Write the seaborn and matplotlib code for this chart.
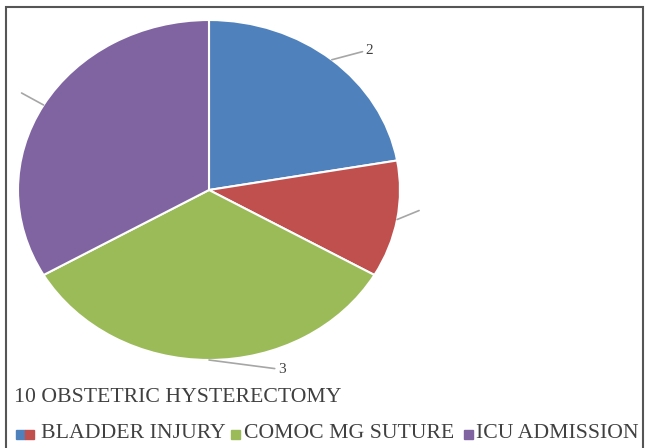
import numpy as np
import matplotlib
matplotlib.use("Agg")
import matplotlib.pyplot as plt
from matplotlib.patches import Rectangle
import seaborn as sns

# data
categories = ["OBSTETRIC HYSTERECTOMY", "BLADDER INJURY", "COMOC MG SUTURE", "ICU ADMISSION"]
counts = [2, 1, 3, 3]
shown_labels = ["2", "", "3", ""]
title_text = "10 OBSTETRIC HYSTERECTOMY"

colors = ["#4F81BD", "#C0504D", "#9BBB59", "#8064A2"]
label_offsets = [(34, 9), (22, 9), (69, -9), (-22, 12)]  # pixels, leader end

sns.set_theme(style="white")
plt.rcParams['font.family'] = ['Liberation Serif', 'DejaVu Serif']

W, H = 646, 448
fig = plt.figure(figsize=(W / 100, H / 100), dpi=100)

# pie centre (209,190) px, radii 191 x 170 px (slightly squashed like the original)
cx, cy, rx, ry = 209, 190, 191, 170
ax = fig.add_axes([(cx - rx) / W, 1 - (cy + ry) / H, 2 * rx / W, 2 * ry / H])
wedges, _ = ax.pie(counts, colors=colors, startangle=90, counterclock=False,
                   wedgeprops=dict(edgecolor="white", linewidth=1.5))
ax.set_aspect("auto")
ax.set_xlim(-1, 1)
ax.set_ylim(-1, 1)
ax.axis("off")

for w, lab, off in zip(wedges, shown_labels, label_offsets):
    mid = np.deg2rad((w.theta1 + w.theta2) / 2)
    xy = (np.cos(mid), np.sin(mid))
    ax.annotate(lab, xy=xy, xytext=off, textcoords="offset pixels",
                ha="left", va="center", fontsize=11, color="#404040",
                arrowprops=dict(arrowstyle="-", color="#A6A6A6", lw=1.2,
                                shrinkA=0, shrinkB=0, relpos=(0, 0.5)),
                annotation_clip=False)

# outer frame
fig.patches.append(Rectangle((6 / W, -0.1), (643 - 6) / W, 1.1 - 7 / H,
                             transform=fig.transFigure, fill=False,
                             edgecolor="#555555", linewidth=1.5))

txt_kw = dict(fontsize=15.7, color="#404040", va="center", ha="left")
fig.text(14 / W, 1 - 397 / H, title_text, **txt_kw)

# legend row drawn by hand: blue+red share one marker, as in the original
def square(x, c):
    fig.patches.append(Rectangle((x / W, 1 - 439 / H), 9 / W, 9 / H,
                                 transform=fig.transFigure, color=c))

legend_y = 1 - 433 / H
square(16, colors[0])
square(25, colors[1])
fig.text(41 / W, legend_y, categories[1], **txt_kw)
square(231, colors[2])
fig.text(244 / W, legend_y, categories[2], **txt_kw)
square(464, colors[3])
fig.text(476 / W, legend_y, categories[3], **txt_kw)

fig.savefig("out.png", dpi=100)
